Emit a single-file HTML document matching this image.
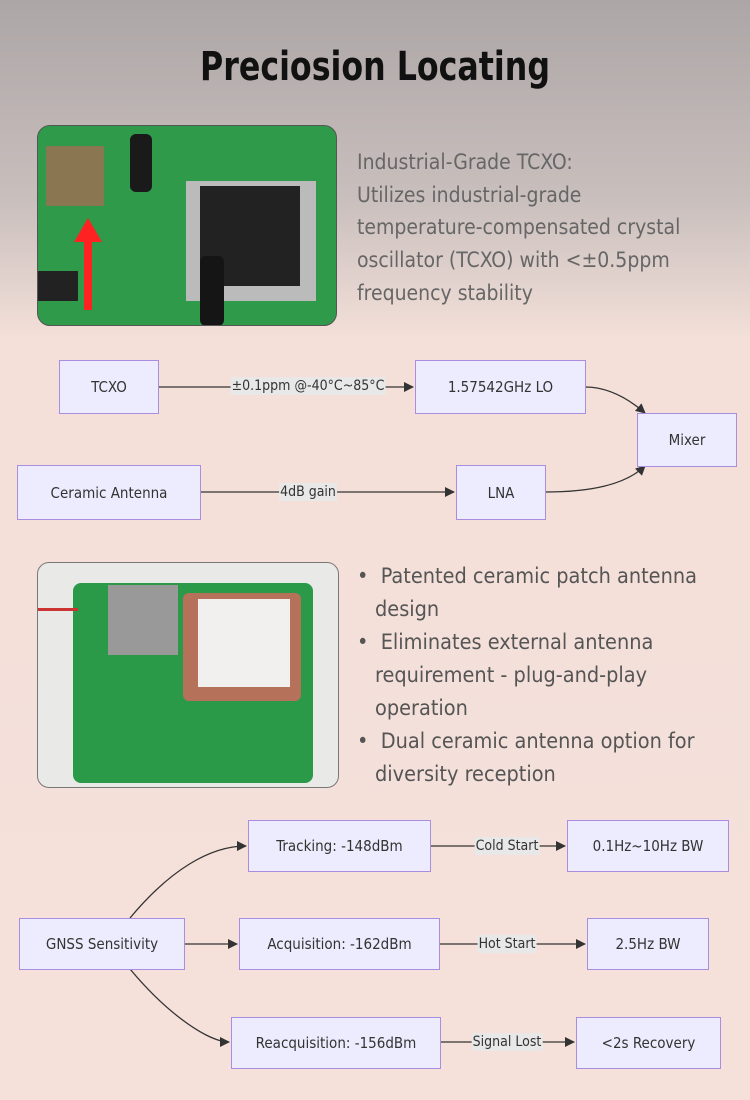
<!DOCTYPE html>
<html><head><meta charset="utf-8"><style>
body{margin:0;width:750px;height:1100px;overflow:hidden;font-family:"DejaVu Sans Condensed","Liberation Sans",sans-serif;background:linear-gradient(180deg,#aca6a6 0px,#c9bfbd 200px,#f4e0d9 340px,#f5e0da 1100px);position:relative}
.a{position:absolute}
.n{position:absolute;box-sizing:border-box;background:#ececfe;border:1.5px solid #a98ee0;display:flex;align-items:center;justify-content:center;font-size:15px;color:#333}
.l{position:absolute;background:#e8e8e8;font-size:14px;color:#333;transform:translate(-50%,-50%);padding:1px 1px;white-space:nowrap}
.t{color:#666;font-size:21px;line-height:32.7px}
.b{color:#555;font-size:21.5px;line-height:33px;white-space:nowrap}
.b div{padding-left:18px;text-indent:-18px}
</style></head><body>
<div class="a" style="left:0;width:750px;top:44px;text-align:center;font-size:40px;font-weight:bold;color:#111;transform:scaleX(0.88)">Preciosion Locating</div>
<div class="a" style="left:37px;top:125px;width:300px;height:201px;border-radius:13px;overflow:hidden;background:#2f9a4a;border:1px solid #555;box-sizing:border-box">
 <div class="a" style="left:8px;top:20px;width:58px;height:60px;background:#8a7650"></div>
 <div class="a" style="left:92px;top:8px;width:22px;height:58px;background:#1a1a1a;border-radius:6px"></div>
 <div class="a" style="left:148px;top:55px;width:130px;height:120px;background:#bbb"></div>
 <div class="a" style="left:162px;top:60px;width:100px;height:100px;background:#222"></div>
 <div class="a" style="left:162px;top:130px;width:24px;height:70px;background:#151515;border-radius:6px"></div>
 <div class="a" style="left:0;top:145px;width:40px;height:30px;background:#222"></div>
 <div class="a" style="left:46px;top:112px;width:8px;height:72px;background:#f22"></div>
 <div class="a" style="left:36px;top:92px;width:0;height:0;border-left:14px solid transparent;border-right:14px solid transparent;border-bottom:24px solid #f22"></div>
</div>
<div class="a t" style="left:357px;top:146px">Industrial-Grade TCXO:<br>Utilizes industrial-grade<br>temperature-compensated crystal<br>oscillator (TCXO) with &lt;±0.5ppm<br>frequency stability</div>

<svg class="a" style="left:0;top:0" width="750" height="1100">
<defs><marker id="m" markerWidth="10" markerHeight="10" refX="9" refY="5" orient="auto" markerUnits="userSpaceOnUse"><path d="M0,0L10,5L0,10z" fill="#333"/></marker></defs>
<g stroke="#333" stroke-width="1.3" fill="none" marker-end="url(#m)">
<path d="M158,387H413"/>
<path d="M585,387C610,387 630,400 645,413"/>
<path d="M200,492H454"/>
<path d="M545,492C590,492 625,485 645,466"/>
<path d="M130,918C170,870 210,846 246,846"/>
<path d="M184,944H237"/>
<path d="M130,969C170,1017 210,1042 229,1042"/>
<path d="M430,846H565"/>
<path d="M439,944H585"/>
<path d="M440,1042H574"/>
</g></svg>
<div class="n" style="left:59px;top:360px;width:100px;height:54px">TCXO</div>
<div class="n" style="left:415px;top:360px;width:171px;height:54px">1.57542GHz LO</div>
<div class="n" style="left:637px;top:413px;width:100px;height:54px">Mixer</div>
<div class="n" style="left:17px;top:465px;width:184px;height:55px">Ceramic Antenna</div>
<div class="n" style="left:456px;top:465px;width:90px;height:55px">LNA</div>
<div class="l" style="left:308px;top:386px">±0.1ppm @-40°C~85°C</div>
<div class="l" style="left:308px;top:492px">4dB gain</div>

<div class="a" style="left:37px;top:562px;width:302px;height:226px;border-radius:12px;overflow:hidden;background:#e9e9e7;border:1px solid #777;box-sizing:border-box">
 <div class="a" style="left:35px;top:20px;width:240px;height:200px;background:#2a9a48;border-radius:8px"></div>
 <div class="a" style="left:70px;top:22px;width:70px;height:70px;background:#999"></div>
 <div class="a" style="left:145px;top:30px;width:118px;height:108px;background:#b5715a;border-radius:6px"></div>
 <div class="a" style="left:160px;top:36px;width:92px;height:88px;background:#f2f0ef"></div>
 <div class="a" style="left:0;top:45px;width:40px;height:3px;background:#c33"></div>
</div>
<div class="a b" style="left:357px;top:560px;width:390px">
<div>•&nbsp; Patented ceramic patch antenna<br>design</div>
<div>•&nbsp; Eliminates external antenna<br>requirement - plug-and-play<br>operation</div>
<div>•&nbsp; Dual ceramic antenna option for<br>diversity reception</div>
</div>

<div class="n" style="left:19px;top:918px;width:166px;height:52px">GNSS Sensitivity</div>
<div class="n" style="left:248px;top:820px;width:183px;height:52px">Tracking: -148dBm</div>
<div class="n" style="left:567px;top:820px;width:162px;height:52px">0.1Hz~10Hz BW</div>
<div class="n" style="left:239px;top:918px;width:201px;height:52px">Acquisition: -162dBm</div>
<div class="n" style="left:587px;top:918px;width:122px;height:52px">2.5Hz BW</div>
<div class="n" style="left:231px;top:1017px;width:210px;height:52px">Reacquisition: -156dBm</div>
<div class="n" style="left:576px;top:1017px;width:145px;height:52px">&lt;2s Recovery</div>
<div class="l" style="left:507px;top:846px">Cold Start</div>
<div class="l" style="left:507px;top:944px">Hot Start</div>
<div class="l" style="left:507px;top:1042px">Signal Lost</div>
</body></html>
